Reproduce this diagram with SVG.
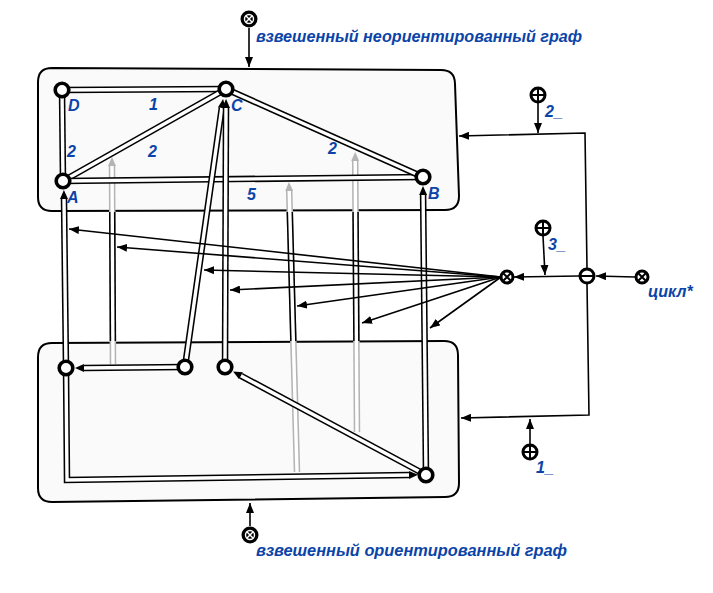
<svg xmlns="http://www.w3.org/2000/svg" width="713" height="593" viewBox="0 0 713 593">
<defs>
<style>
.panel{fill:#fafafa;stroke:#000;stroke-width:2}
.o{fill:none;stroke:#000;stroke-width:6.5}
.i{fill:none;stroke:#fff;stroke-width:3.4}
.go{fill:none;stroke:#b4b4b4;stroke-width:6.5}
.oa{marker-end:url(#aD)}
.ga{marker-end:url(#aG)}
.t{fill:none;stroke:#000;stroke-width:1.6}
.ta{marker-end:url(#aT)}
.node{fill:#fff;stroke:#000;stroke-width:3.6}
.op{fill:#fff;stroke:#000;stroke-width:3}
.opl{stroke:#000;stroke-width:2;fill:none}
.blk{fill:#000}
.wl{stroke:#fff;stroke-width:1.4;fill:none}
.lbl{font-family:"Liberation Sans",Arial,sans-serif;font-weight:bold;font-style:italic;fill:#0b44a8;font-size:16px}
.ttl{font-size:16px}
</style>
<marker id="aD" markerUnits="userSpaceOnUse" viewBox="0 0 9 8" markerWidth="9" markerHeight="8" refX="0" refY="4" orient="auto"><path d="M0,0 L9,4 L0,8 Z" fill="#000"/></marker>
<marker id="aG" markerUnits="userSpaceOnUse" viewBox="0 0 9 8" markerWidth="9" markerHeight="8" refX="0" refY="4" orient="auto"><path d="M0,0 L9,4 L0,8 Z" fill="#b4b4b4"/></marker>
<marker id="aT" markerUnits="userSpaceOnUse" viewBox="0 0 10 8" markerWidth="10" markerHeight="8" refX="10" refY="4" orient="auto"><path d="M0,0 L10,4 L0,8 Z" fill="#000"/></marker>
<clipPath id="gap"><rect x="0" y="212" width="713" height="129"/></clipPath>
<path id="eDC" d="M62,90 L226,89"/>
<path id="eDA" d="M62,90 L63,181"/>
<path id="eAC" d="M63,181 L226,89"/>
<path id="eAB" d="M63,181 L423,177"/>
<path id="eCB" d="M226,89 L423,177"/>
<path id="m1" d="M113,364 L112,166"/>
<path id="m2" d="M297,472 L289.2,191"/>
<path id="m3" d="M357,432 L355.2,161"/>
<path id="dAA" d="M66,368 L64,199"/>
<path id="dN2C" d="M185,367 L221.8,108"/>
<path id="dN3C" d="M225,367 L226,108"/>
<path id="dBB" d="M426,475 L423.1,195"/>
<path id="dN2A" d="M185,367 L84,368"/>
<path id="dBN3" d="M426,475 L241,375.8"/>
<path id="dAB" d="M66,368 L67,480 L409,475"/>
</defs>
<rect width="713" height="593" fill="#fff"/>

<g id="panel-undirected"><path class="panel" d="M52,68 L441,70 Q455,70 455,84 L459,196 Q459,210 445,210 L52,211 Q38,211 38,197 L38,82 Q38,68 52,68 Z"/></g>
<g id="panel-directed"><path class="panel" d="M52,343 L444,341 Q458,341 458,355 L459,483 Q459,497 445,497 L52,502 Q38,502 38,488 L38,357 Q38,343 52,343 Z"/></g>

<g id="connectors">
  <use href="#m1" class="go ga"/><use href="#m1" class="i"/>
  <use href="#m2" class="go ga"/><use href="#m2" class="i"/>
  <use href="#m3" class="go ga"/><use href="#m3" class="i"/>
  <g clip-path="url(#gap)">
    <use href="#m1" class="o"/><use href="#m1" class="i"/>
    <use href="#m2" class="o"/><use href="#m2" class="i"/>
    <use href="#m3" class="o"/><use href="#m3" class="i"/>
  </g>
  <use href="#eDC" class="o"/><use href="#eDC" class="i"/>
  <use href="#eDA" class="o"/><use href="#eDA" class="i"/>
  <use href="#eAC" class="o"/><use href="#eAC" class="i"/>
  <use href="#eAB" class="o"/><use href="#eAB" class="i"/>
  <use href="#eCB" class="o"/><use href="#eCB" class="i"/>
  <use href="#dN2A" class="o oa"/><use href="#dN2A" class="i"/>
  <use href="#dBN3" class="o oa"/><use href="#dBN3" class="i"/>
  <use href="#dAB" class="o oa"/><use href="#dAB" class="i"/>
  <use href="#dAA" class="o oa"/><use href="#dAA" class="i"/>
  <use href="#dN2C" class="o oa"/><use href="#dN2C" class="i"/>
  <use href="#dN3C" class="o oa"/><use href="#dN3C" class="i"/>
  <use href="#dBB" class="o oa"/><use href="#dBB" class="i"/>
  <path class="t ta" d="M501,277 L69,229"/>
  <path class="t ta" d="M501,277 L117,247"/>
  <path class="t ta" d="M501,277 L204,270"/>
  <path class="t ta" d="M501,277 L230,290"/>
  <path class="t ta" d="M501,277 L297,306"/>
  <path class="t ta" d="M501,277 L362,323"/>
  <path class="t ta" d="M501,277 L430,328"/>
  <path class="t ta" d="M635,277 L596,276"/>
  <path class="t ta" d="M579,276 L514,277"/>
  <path class="t ta" d="M543,236 L545,275"/>
  <path class="t ta" d="M587,268 L585,133 L459,136"/>
  <path class="t ta" d="M538,103 L538,133"/>
  <path class="t ta" d="M587,284 L589,415 L461,418"/>
  <path class="t ta" d="M530,444 L530,419"/>
  <path class="t ta" d="M249,28 L249,67"/>
  <path class="t ta" d="M250,526 L250,503"/>
</g>

<g id="node-D"><circle class="node" cx="62" cy="90" r="6.8"/><text class="lbl" x="68" y="111">D</text></g>
<g id="node-C"><circle class="node" cx="226" cy="89" r="6.8"/><text class="lbl" x="231" y="111">C</text></g>
<g id="node-A"><circle class="node" cx="63" cy="181" r="6.8"/><text class="lbl" x="67" y="203">A</text></g>
<g id="node-B"><circle class="node" cx="423" cy="177" r="6.8"/><text class="lbl" x="428" y="199">B</text></g>
<g id="weights">
  <text class="lbl" x="149" y="110">1</text>
  <text class="lbl" x="67" y="157">2</text>
  <text class="lbl" x="148" y="157">2</text>
  <text class="lbl" x="328" y="154">2</text>
  <text class="lbl" x="247" y="200">5</text>
</g>
<g id="node-d1"><circle class="node" cx="66" cy="368" r="6.8"/></g>
<g id="node-d2"><circle class="node" cx="185" cy="367" r="6.8"/></g>
<g id="node-d3"><circle class="node" cx="225" cy="367" r="6.8"/></g>
<g id="node-d4"><circle class="node" cx="426" cy="475" r="6.8"/></g>

<g id="op-top"><circle class="blk" cx="249" cy="19" r="8.5"/><circle class="wl" cx="249" cy="19" r="4.5"/><path class="wl" d="M245.8,15.8 L252.2,22.2 M252.2,15.8 L245.8,22.2"/></g>
<g id="op-bottom"><circle class="blk" cx="250" cy="535" r="8.5"/><circle class="wl" cx="250" cy="535" r="4.5"/><path class="wl" d="M246.8,531.8 L253.2,538.2 M253.2,531.8 L246.8,538.2"/></g>
<g id="title-top"><text class="lbl ttl" x="256" y="42" textLength="326" lengthAdjust="spacingAndGlyphs">взвешенный неориентированный граф</text></g>
<g id="title-bottom"><text class="lbl ttl" x="256" y="556" textLength="311" lengthAdjust="spacingAndGlyphs">взвешенный ориентированный граф</text></g>

<g id="op-cross"><circle class="op" cx="507" cy="277" r="6"/><path class="opl" d="M503.5,273.5 L510.5,280.5 M510.5,273.5 L503.5,280.5"/></g>
<g id="op-minus"><circle class="op" cx="587" cy="276" r="7"/><path class="opl" d="M580,276 L594,276"/></g>
<g id="op-cycle"><circle class="op" cx="642" cy="277" r="6"/><path class="opl" d="M638.5,273.5 L645.5,280.5 M645.5,273.5 L638.5,280.5"/><text class="lbl" x="648" y="297">цикл*</text></g>
<g id="op-plus2"><circle class="op" cx="538" cy="95" r="7"/><path class="opl" d="M531,95 L545,95 M538,88 L538,102"/><text class="lbl" x="545" y="117">2_</text></g>
<g id="op-plus3"><circle class="op" cx="543" cy="228" r="7"/><path class="opl" d="M536,228 L550,228 M543,221 L543,235"/><text class="lbl" x="548" y="250">3_</text></g>
<g id="op-plus1"><circle class="op" cx="530" cy="452" r="7"/><path class="opl" d="M523,452 L537,452 M530,445 L530,459"/><text class="lbl" x="536" y="473">1_</text></g>
</svg>
